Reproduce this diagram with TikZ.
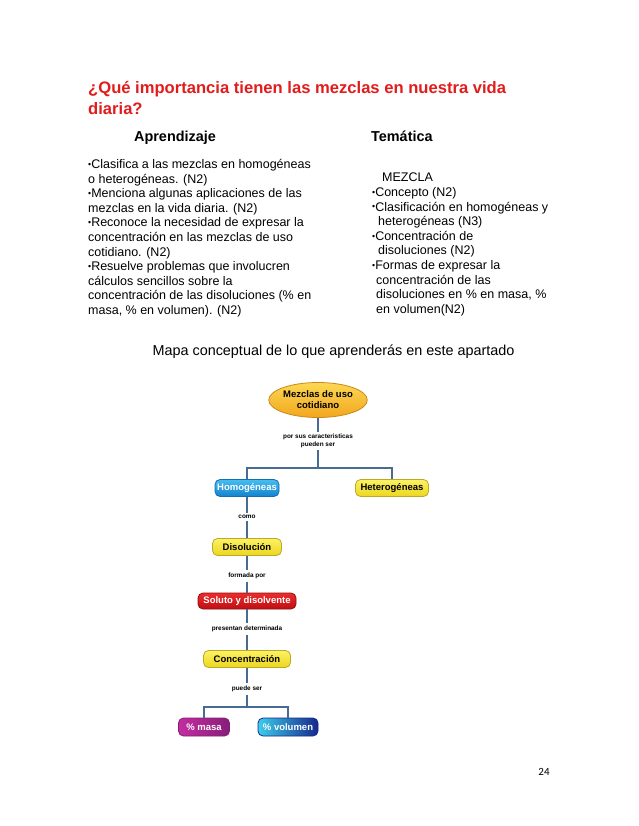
\documentclass[tikz,border=0pt]{standalone}
\usepackage{fontspec}
\usepackage{graphicx}
\setmainfont{Liberation Sans}
\newfontfamily\calib{Carlito}
\usetikzlibrary{shapes.geometric}
\newcommand\smb{\raisebox{0.1em}{\scalebox{0.7}{•}}}
\definecolor{titlered}{RGB}{226,28,28}
\definecolor{connc}{RGB}{72,108,145}
\definecolor{ovtop}{RGB}{252,216,84}
\definecolor{ovbot}{RGB}{242,166,30}
\definecolor{ovbd}{RGB}{205,135,20}
\definecolor{yetop}{RGB}{252,242,100}
\definecolor{yebot}{RGB}{236,214,30}
\definecolor{yebd}{RGB}{190,168,40}
\definecolor{bltop}{RGB}{70,190,240}
\definecolor{blbot}{RGB}{20,130,205}
\definecolor{blbd}{RGB}{20,110,175}
\definecolor{rdtop}{RGB}{235,45,45}
\definecolor{rdbot}{RGB}{190,15,20}
\definecolor{rdbd}{RGB}{150,10,10}
\definecolor{mgl}{RGB}{195,45,160}
\definecolor{mgr}{RGB}{135,30,120}
\definecolor{vll}{RGB}{60,205,235}
\definecolor{vlr}{RGB}{22,40,140}
\begin{document}
\begin{tikzpicture}[x=1pt,y=-1pt,
  titletxt/.style={font=\bfseries\fontsize{16.6}{21}\selectfont, text=titlered, inner sep=0pt},
  headtxt/.style={font=\bfseries\fontsize{14.4}{16}\selectfont, inner sep=0pt},
  coltxt/.style={font=\fontsize{12.5}{14.6}\selectfont, align=left, inner sep=0pt},
  conn/.style={draw=connc, line width=1.4pt},
  lab/.style={font=\bfseries\fontsize{6.4}{7.5}\selectfont, align=center, inner sep=2.5pt},
  oval/.style={ellipse, draw=ovbd, line width=0.8pt, top color=ovtop, bottom color=ovbot, minimum width=90pt, minimum height=35pt, inner sep=0pt, align=center, font=\bfseries\fontsize{9.5}{11}\selectfont},
  cbox/.style={rounded corners=5pt, line width=0.8pt, minimum height=17pt, inner sep=0pt, font=\bfseries\fontsize{9.5}{11}\selectfont},
  ybox/.style={cbox, draw=yebd, top color=yetop, bottom color=yebot},
  bbox/.style={cbox, draw=blbd, top color=bltop, bottom color=blbot, text=white},
  rbox/.style={cbox, draw=rdbd, top color=rdtop, bottom color=rdbot, text=white},
  mbox/.style={cbox, draw=mgr, left color=mgl, right color=mgr, text=white},
  vbox/.style={cbox, draw=vlr, left color=vll, right color=vlr, text=white}
]
\useasboundingbox (0,0) rectangle (638,826);
\fill[white] (0,0) rectangle (638,826);

\node[titletxt, anchor=base west] (t1) at (88,94) {¿Qué importancia tienen las mezclas en nuestra vida};
\node[titletxt, anchor=base west] (t2) at (88,115) {diaria?};
\node[headtxt, anchor=base west] (h1) at (134,142) {Aprendizaje};
\node[headtxt, anchor=base west] (h2) at (371,142) {Temática};

\node[coltxt, anchor=north west] (apr) at (88,159) {\smb Clasifica a las mezclas en homogéneas\\
o heterogéneas. (N2)\\
\smb Menciona algunas aplicaciones de las\\
mezclas en la vida diaria. (N2)\\
\smb Reconoce la necesidad de expresar la\\
concentración en las mezclas de uso\\
cotidiano. (N2)\\
\smb Resuelve problemas que involucren\\
cálculos sencillos sobre la\\
concentración de las disoluciones (\% en\\
masa, \% en volumen). (N2)};

\node[coltxt, anchor=north west] (tem) at (372,173) {\hspace*{10pt}MEZCLA\\
\smb Concepto (N2)\\
\smb Clasificación en homogéneas y\\
\hspace*{6pt}heterogéneas (N3)\\
\smb Concentración de\\
\hspace*{6pt}disoluciones (N2)\\
\smb Formas de expresar la\\
\hspace*{4pt}concentración de las\\
\hspace*{4pt}disoluciones en \% en masa, \%\\
\hspace*{4pt}en volumen(N2)};

\node[font=\fontsize{14.4}{17}\selectfont, inner sep=0pt] (sub) at (333.5,352) {Mapa conceptual de lo que aprenderás en este apartado};

% concept map
\node[oval] (mez) at (318,400) {Mezclas de uso\\cotidiano};
\node[lab] (lb1) at (318,441) {por sus caracteristicas\\pueden ser};
\coordinate (j1) at (318,468);
\node[bbox, minimum width=64pt] (hom) at (247,488) {Homogéneas};
\node[ybox, minimum width=73pt] (het) at (392,488) {Heterogéneas};
\node[lab] (lb2) at (247,517) {como};
\node[ybox, minimum width=69pt] (dis) at (247,547) {Disolución};
\node[lab] (lb3) at (247,576) {formada por};
\node[rbox, minimum width=98pt, minimum height=16pt] (sol) at (247,601) {Soluto y disolvente};
\node[lab] (lb4) at (247,629) {presentan determinada};
\node[ybox, minimum width=87pt] (con) at (247,659) {Concentración};
\node[lab] (lb5) at (247,689) {puede ser};
\coordinate (j2) at (247,707);
\node[mbox, minimum width=51pt, minimum height=18pt] (mas) at (204,727) {\% masa};
\node[vbox, minimum width=60pt, minimum height=18pt] (vol) at (288,727) {\% volumen};

\draw[conn] (mez) -- (lb1);
\draw[conn] (lb1) -- (j1);
\draw[conn] (hom.north) |- (j1) -| (het.north);
\draw[conn] (hom) -- (lb2);
\draw[conn] (lb2) -- (dis);
\draw[conn] (dis) -- (lb3);
\draw[conn] (lb3) -- (sol);
\draw[conn] (sol) -- (lb4);
\draw[conn] (lb4) -- (con);
\draw[conn] (con) -- (lb5);
\draw[conn] (lb5) -- (j2);
\draw[conn] (mas.north) |- (j2) -| (vol.north);

\node[font=\calib\fontsize{11}{13}\selectfont, anchor=base, inner sep=0pt] (pg) at (544,775) {24};
\end{tikzpicture}
\end{document}
